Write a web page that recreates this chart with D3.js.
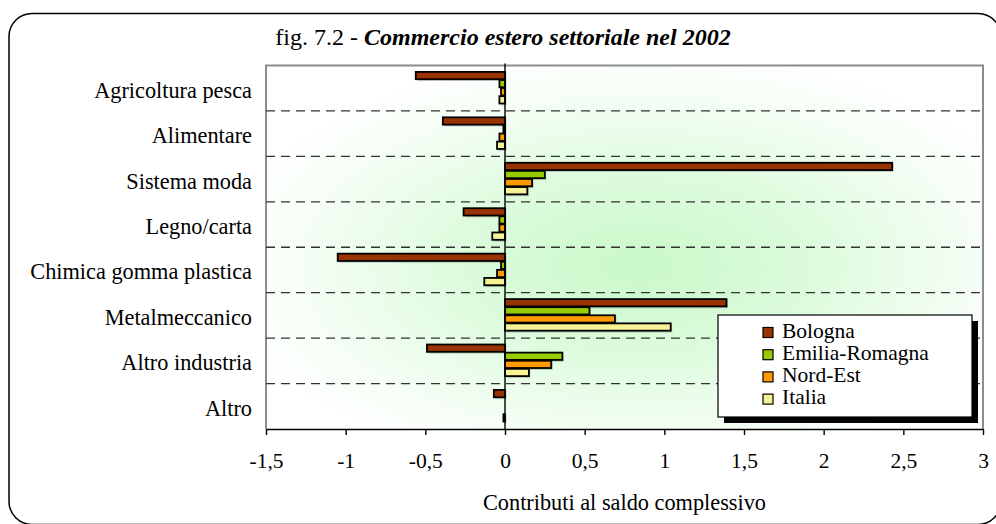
<!DOCTYPE html>
<html>
<head>
<meta charset="utf-8">
<script src="https://cdn.jsdelivr.net/npm/d3@7"></script>
<style>
  html, body { margin: 0; padding: 0; background: #ffffff; }
  svg { display: block; }
  svg text { font-family: "Liberation Serif", "Times New Roman", serif !important; fill: #000; }
</style>
</head>
<body>
<svg id="chart" width="996" height="524"></svg>
<script>
// ---- data ----
const categories = ["Agricoltura pesca", "Alimentare", "Sistema moda", "Legno/carta",
  "Chimica gomma plastica", "Metalmeccanico", "Altro industria", "Altro"];
const seriesNames = ["Bologna", "Emilia-Romagna", "Nord-Est", "Italia"];
const bologna       = [-0.56, -0.39, 2.43, -0.26, -1.05, 1.39, -0.49, -0.07];
const emiliaRomagna = [-0.035, -0.01, 0.25, -0.035, -0.025, 0.53, 0.36, 0];
const nordEst       = [-0.025, -0.035, 0.17, -0.035, -0.05, 0.69, 0.29, 0];
const italia        = [-0.035, -0.05, 0.14, -0.08, -0.13, 1.04, 0.15, -0.01];
const tickValues = [-1.5, -1, -0.5, 0, 0.5, 1, 1.5, 2, 2.5, 3];
const tickLabels = ["-1,5", "-1", "-0,5", "0", "0,5", "1", "1,5", "2", "2,5", "3"];
const titlePrefix = "fig. 7.2 - ";
const titleMain = "Commercio estero settoriale nel 2002";
const xAxisTitle = "Contributi al saldo complessivo";

const seriesValues = [bologna, emiliaRomagna, nordEst, italia];
const colors = ["#993300", "#99cc00", "#ff9900", "#f7f294"];

const SERIF = "'Liberation Serif', 'Times New Roman', serif";

// ---- layout ----
const svg = d3.select("#chart");
const plot = { left: 266, right: 983, top: 65.5, bottom: 429 };

const defs = svg.append("defs");
const grad = defs.append("radialGradient").attr("id", "bg")
  .attr("cx", 0.52).attr("cy", 0.55).attr("r", 0.6);
grad.append("stop").attr("offset", "0%").attr("stop-color", "#c9f9c9");
grad.append("stop").attr("offset", "40%").attr("stop-color", "#dcfbdc");
grad.append("stop").attr("offset", "80%").attr("stop-color", "#f6fef6");
grad.append("stop").attr("offset", "100%").attr("stop-color", "#ffffff");

// outer rounded frame
svg.append("rect")
  .attr("x", 9).attr("y", 13.5).attr("width", 992).attr("height", 511)
  .attr("rx", 23).attr("ry", 23)
  .attr("fill", "none").attr("stroke", "#000").attr("stroke-width", 1.5);

// title
const title = svg.append("text")
  .attr("x", 503).attr("y", 45).attr("text-anchor", "middle")
  .style("font-family", SERIF)
  .style("font-size", "24px");
title.append("tspan").text(titlePrefix);
title.append("tspan").style("font-weight", "bold").style("font-style", "italic").text(titleMain);

// scales
const x = d3.scaleLinear().domain([-1.5, 3]).range([plot.left, plot.right]);
const y = d3.scaleBand().domain(categories).range([plot.top, plot.bottom]);
const bw = y.bandwidth();
const ySub = d3.scaleBand().domain(seriesNames).range([bw * 0.132, bw * 0.845]);

// plot background
svg.append("rect")
  .attr("x", plot.left).attr("y", plot.top)
  .attr("width", plot.right - plot.left).attr("height", plot.bottom - plot.top)
  .attr("fill", "url(#bg)");

// plot border (top, right, left)
svg.append("path")
  .attr("d", `M${plot.left},${plot.bottom} V${plot.top} H${plot.right} V${plot.bottom}`)
  .attr("fill", "none").attr("stroke", "#8c8c8c").attr("stroke-width", 2);

// dashed separators
svg.append("g").selectAll("line")
  .data(categories.slice(0, categories.length - 1))
  .join("line")
  .attr("x1", plot.left).attr("x2", plot.right)
  .attr("y1", d => y(d) + bw).attr("y2", d => y(d) + bw)
  .attr("stroke", "#333").attr("stroke-width", 1.3).attr("stroke-dasharray", "9,6");

// bars
const barData = [];
categories.forEach((c, i) => {
  seriesNames.forEach((s, j) => {
    barData.push({ cat: c, series: s, value: seriesValues[j][i], color: colors[j] });
  });
});

const bars = svg.append("g");
bars.selectAll("rect.shadow")
  .data(barData.filter(d => d.value !== 0))
  .join("rect").attr("class", "shadow")
  .attr("x", d => Math.min(x(0), x(d.value)) + 1.5)
  .attr("y", d => y(d.cat) + ySub(d.series) + 1.5)
  .attr("width", d => Math.max(1.5, Math.abs(x(d.value) - x(0))))
  .attr("height", ySub.bandwidth())
  .attr("fill", "#000").attr("opacity", 0.18);
bars.selectAll("rect.bar")
  .data(barData.filter(d => d.value !== 0))
  .join("rect").attr("class", "bar")
  .attr("x", d => Math.min(x(0), x(d.value)))
  .attr("y", d => y(d.cat) + ySub(d.series) + 0.4)
  .attr("width", d => Math.max(1.2, Math.abs(x(d.value) - x(0))))
  .attr("height", ySub.bandwidth() - 0.8)
  .attr("fill", d => d.color)
  .attr("stroke", "#000").attr("stroke-width", 1.8);

// zero line
svg.append("line")
  .attr("x1", x(0)).attr("x2", x(0))
  .attr("y1", plot.top - 2).attr("y2", plot.bottom)
  .attr("stroke", "#000").attr("stroke-width", 1.4);

// category labels
svg.append("g").selectAll("text")
  .data(categories)
  .join("text")
  .attr("x", 252)
  .attr("y", d => y(d) + bw / 2 + 9.5)
  .attr("text-anchor", "end")
  .style("font-family", SERIF)
  .style("font-size", "22.3px")
  .text(d => d);

// x axis
const xAxis = d3.axisBottom(x)
  .tickValues(tickValues)
  .tickSize(6)
  .tickSizeOuter(0)
  .tickFormat((d, i) => tickLabels[i]);
const gx = svg.append("g")
  .attr("transform", `translate(0,${plot.bottom})`)
  .call(xAxis)
  .attr("font-family", null).attr("font-size", null);
gx.select(".domain").attr("stroke", "#000").attr("stroke-width", 1.4);
gx.selectAll(".tick line").attr("stroke", "#000").attr("stroke-width", 1.4);
gx.selectAll(".tick text")
  .attr("y", 24)
  .style("font-family", SERIF)
  .style("font-size", "21.5px")
  .attr("fill", "#000");

// axis title
svg.append("text")
  .attr("x", (plot.left + plot.right) / 2).attr("y", 510)
  .attr("text-anchor", "middle")
  .style("font-family", SERIF)
  .style("font-size", "22.3px")
  .text(xAxisTitle);

// legend
const lg = { x: 718, y: 315, w: 254, h: 102 };
svg.append("rect")
  .attr("x", lg.x + 6).attr("y", lg.y + 6).attr("width", lg.w).attr("height", lg.h)
  .attr("fill", "#000");
svg.append("rect")
  .attr("x", lg.x).attr("y", lg.y).attr("width", lg.w).attr("height", lg.h)
  .attr("fill", "#fff").attr("stroke", "#000").attr("stroke-width", 1.2);
const items = svg.append("g").selectAll("g")
  .data(seriesNames)
  .join("g")
  .attr("transform", (d, i) => `translate(763,${337.5 + i * 22.2})`);
items.append("rect")
  .attr("x", 0).attr("y", -10).attr("width", 10).attr("height", 10)
  .attr("fill", (d, i) => colors[i])
  .attr("stroke", "#000").attr("stroke-width", 1.2);
items.append("text")
  .attr("x", 19).attr("y", 0)
  .style("font-family", SERIF)
  .style("font-size", "21.5px")
  .text(d => d);
</script>
</body>
</html>
